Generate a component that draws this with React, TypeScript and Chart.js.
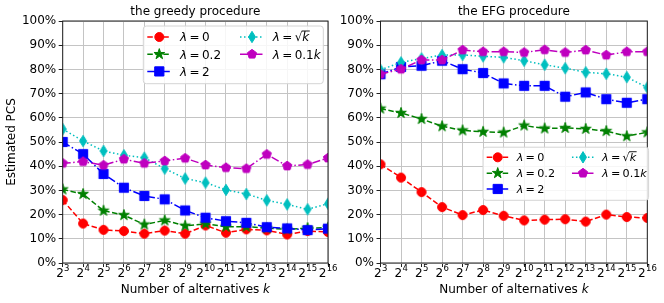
import React, { useEffect, useRef } from 'react';
import { Chart, registerables } from 'chart.js';
Chart.register(...registerables);

// ---------- data ----------
const exponents = [3, 4, 5, 6, 7, 8, 9, 10, 11, 12, 13, 14, 15, 16];
const tickBase = '2';

const seriesLabels = ['λ = 0', 'λ = 0.2', 'λ = 2', 'λ = √k', 'λ = 0.1k'];

const greedyLam0 = [26.0, 16.3, 13.7, 13.2, 12.1, 13.4, 12.1, 15.5, 12.5, 13.9, 13.5, 11.8, 13.2, 12.8];
const greedyLam02 = [30.4, 28.5, 21.6, 19.8, 15.9, 17.6, 15.4, 16.2, 15.0, 15.0, 14.4, 13.9, 14.4, 14.6];
const greedyLam2 = [50.0, 45.0, 36.8, 31.1, 27.7, 26.3, 21.7, 18.7, 17.3, 16.6, 14.8, 14.3, 13.6, 14.2];
const greedyLamSqrtK = [55.3, 50.4, 46.3, 44.5, 43.5, 39.0, 34.9, 33.2, 30.2, 28.5, 25.9, 24.2, 22.2, 24.5];
const greedyLam01K = [41.2, 41.9, 40.4, 42.9, 41.2, 42.2, 43.3, 40.5, 39.4, 39.0, 44.9, 40.1, 40.7, 43.4];

const efgLam0 = [40.8, 35.3, 29.3, 23.1, 19.8, 21.9, 19.5, 17.6, 17.9, 18.1, 17.1, 20.0, 19.0, 18.6];
const efgLam02 = [63.8, 62.0, 59.5, 56.5, 54.8, 54.2, 53.9, 56.8, 55.6, 55.8, 55.4, 54.5, 52.4, 54.0];
const efgLam2 = [78.0, 81.0, 81.5, 83.6, 80.1, 78.5, 74.2, 73.2, 73.2, 68.7, 70.5, 67.7, 66.2, 67.7];
const efgLamSqrtK = [79.8, 82.9, 84.5, 85.9, 86.0, 85.4, 85.0, 83.6, 81.9, 80.5, 78.8, 78.2, 76.8, 72.5];
const efgLam01K = [78.0, 80.1, 83.9, 83.9, 88.0, 87.3, 87.3, 87.0, 88.1, 87.0, 88.0, 85.9, 87.3, 87.3];

const titleGreedy = 'the greedy procedure';
const titleEFG = 'the EFG procedure';
const xAxisTitle = 'Number of alternatives ';
const xAxisVar = 'k';
const yAxisTitle = 'Estimated PCS';

// ---------- styles ----------
const FONT = '"DejaVu Sans"';
const seriesColors = ['#ff0000', '#008000', '#0000ff', '#00bfbf', '#bf00bf'];
const seriesMarkers = ['circle', 'star', 'square', 'thinDiamond', 'pentagon'];
const seriesDashes = [[5.5, 2.5], [5.5, 2.5], [8, 2.5, 1.5, 2.5], [1.5, 2.5], [8, 2.5, 1.5, 2.5]];

function markerPath(ctx: CanvasRenderingContext2D, type: string, cx: number, cy: number) {
  ctx.beginPath();
  if (type === 'circle') {
    ctx.arc(cx, cy, 4.5, 0, Math.PI * 2);
  } else if (type === 'square') {
    ctx.rect(cx - 4.6, cy - 4.6, 9.2, 9.2);
  } else if (type === 'star') {
    const R = 5.6, r = R * 0.382;
    for (let i = 0; i < 10; i++) {
      const ang = -Math.PI / 2 + (i * Math.PI) / 5;
      const rr = i % 2 === 0 ? R : r;
      const px = cx + rr * Math.cos(ang), py = cy + rr * Math.sin(ang);
      if (i === 0) ctx.moveTo(px, py); else ctx.lineTo(px, py);
    }
    ctx.closePath();
  } else if (type === 'pentagon') {
    const R = 4.8;
    for (let i = 0; i < 5; i++) {
      const ang = -Math.PI / 2 + (i * 2 * Math.PI) / 5;
      const px = cx + R * Math.cos(ang), py = cy + R * Math.sin(ang);
      if (i === 0) ctx.moveTo(px, py); else ctx.lineTo(px, py);
    }
    ctx.closePath();
  } else if (type === 'thinDiamond') {
    const h = 5.7, w = 3.5;
    ctx.moveTo(cx, cy - h);
    ctx.lineTo(cx + w, cy);
    ctx.lineTo(cx, cy + h);
    ctx.lineTo(cx - w, cy);
    ctx.closePath();
  }
}

function drawMarker(ctx: CanvasRenderingContext2D, type: string, color: string, cx: number, cy: number) {
  ctx.save();
  ctx.setLineDash([]);
  markerPath(ctx, type, cx, cy);
  ctx.fillStyle = color;
  ctx.strokeStyle = color;
  ctx.lineWidth = 1;
  ctx.fill();
  ctx.stroke();
  ctx.restore();
}

function makeMarkerImage(type: string, color: string) {
  const c = document.createElement('canvas');
  c.width = 16;
  c.height = 16;
  const ctx = c.getContext('2d')!;
  drawMarker(ctx, type, color, 8, 8);
  return c;
}

// draw a label such as "λ = 0.1k" with math-like styling
function drawMath(ctx: CanvasRenderingContext2D, label: string, x: number, yBase: number, size: number) {
  const chars = label.replace(/ /g, '').split('');
  let cx = x;
  let sqrtStart = -1;
  for (let i = 0; i < chars.length; i++) {
    const ch = chars[i];
    const italic = ch === 'λ' || ch === 'k';
    ctx.font = `${italic ? 'italic ' : ''}${size}px ${FONT}`;
    if (ch === '=') {
      cx += size * 0.2;
    }
    ctx.fillText(ch, cx, yBase);
    const w = ctx.measureText(ch).width;
    if (ch === '√') {
      sqrtStart = cx + w - 0.6;
    }
    cx += w;
    if (ch === '=') cx += size * 0.2;
  }
  if (sqrtStart >= 0) {
    ctx.save();
    ctx.strokeStyle = '#000';
    ctx.lineWidth = 0.9;
    ctx.beginPath();
    const oy = yBase - size * 0.86;
    ctx.moveTo(sqrtStart, oy);
    ctx.lineTo(cx + 0.5, oy);
    ctx.stroke();
    ctx.restore();
  }
}

type PanelCfg = {
  left: number;
  width: number;
  yWidth: number;
  padRight: number;
  title: string;
  showYTitle: boolean;
  legend: { x: number; y: number; s: number; font: number };
  series: number[][];
};

const panels: PanelCfg[] = [
  {
    left: 0,
    width: 346,
    yWidth: 62.7,
    padRight: 18,
    title: titleGreedy,
    showYTitle: true,
    legend: { x: 143.3, y: 26, s: 1, font: 12 },
    series: [greedyLam0, greedyLam02, greedyLam2, greedyLamSqrtK, greedyLam01K],
  },
  {
    left: 332,
    width: 332,
    yWidth: 48.5,
    padRight: 16.7,
    title: titleEFG,
    showYTitle: false,
    legend: { x: 151, y: 147.2, s: 0.92, font: 11.2 },
    series: [efgLam0, efgLam02, efgLam2, efgLamSqrtK, efgLam01K],
  },
];

function makeDecor(cfg: PanelCfg) {
  return {
    id: 'decor',
    afterDraw(chart: any) {
      const ctx: CanvasRenderingContext2D = chart.ctx;
      const a = chart.chartArea;
      const xs = chart.scales.x;
      ctx.save();
      // frame
      ctx.strokeStyle = '#222';
      ctx.lineWidth = 1;
      ctx.setLineDash([]);
      ctx.strokeRect(a.left, a.top, a.right - a.left, a.bottom - a.top);

      // legend
      const L = cfg.legend;
      const s = L.s;
      ctx.beginPath();
      if ((ctx as any).roundRect) (ctx as any).roundRect(L.x, L.y, 180 * s, 57.7 * s, 3);
      else ctx.rect(L.x, L.y, 180 * s, 57.7 * s);
      ctx.fillStyle = 'rgba(255,255,255,0.85)';
      ctx.fill();
      ctx.strokeStyle = '#d4d4d4';
      ctx.lineWidth = 1;
      ctx.stroke();
      const rows = [11, 28.2, 45.4];
      const order = [[0, 0], [0, 1], [0, 2], [1, 0], [1, 1]];
      for (let i = 0; i < 5; i++) {
        const [col, row] = order[i];
        const ox = L.x + col * 92.7 * s;
        const oy = L.y + rows[row] * s;
        ctx.save();
        ctx.strokeStyle = seriesColors[i];
        ctx.lineWidth = 1.5;
        ctx.setLineDash(seriesDashes[i]);
        ctx.beginPath();
        ctx.moveTo(ox + 4 * s, oy);
        ctx.lineTo(ox + 27.4 * s, oy);
        ctx.stroke();
        ctx.restore();
        drawMarker(ctx, seriesMarkers[i], seriesColors[i], ox + 16 * s, oy);
        ctx.fillStyle = '#000';
        ctx.textAlign = 'left';
        ctx.textBaseline = 'alphabetic';
        drawMath(ctx, seriesLabels[i], ox + 36.7 * s, oy + L.font * 0.36, L.font);
      }

      // title
      const cxMid = (a.left + a.right) / 2;
      ctx.fillStyle = '#000';
      ctx.font = `12px ${FONT}`;
      ctx.textAlign = 'center';
      ctx.textBaseline = 'middle';
      ctx.fillText(cfg.title, cxMid, 11.5);

      // x tick labels 2^e
      ctx.textBaseline = 'alphabetic';
      ctx.textAlign = 'left';
      for (const e of exponents) {
        const px = xs.getPixelForValue(e);
        ctx.font = `12px ${FONT}`;
        const wb = ctx.measureText(tickBase).width;
        ctx.font = `8.5px ${FONT}`;
        const we = ctx.measureText(String(e)).width;
        const x0 = px - (wb + we) / 2;
        ctx.font = `12px ${FONT}`;
        ctx.fillText(tickBase, x0, a.bottom + 13.5);
        ctx.font = `8.5px ${FONT}`;
        ctx.fillText(String(e), x0 + wb + 0.3, a.bottom + 8.2);
      }

      // x title
      ctx.font = `12px ${FONT}`;
      const w1 = ctx.measureText(xAxisTitle).width;
      ctx.font = `italic 12px ${FONT}`;
      const w2 = ctx.measureText(xAxisVar).width;
      const tx = cxMid - (w1 + w2) / 2;
      ctx.textBaseline = 'middle';
      ctx.font = `12px ${FONT}`;
      ctx.fillText(xAxisTitle, tx, 289.5);
      ctx.font = `italic 12px ${FONT}`;
      ctx.fillText(xAxisVar, tx + w1, 289.5);

      // y title
      if (cfg.showYTitle) {
        ctx.save();
        ctx.translate(11.5, (a.top + a.bottom) / 2);
        ctx.rotate(-Math.PI / 2);
        ctx.font = `12px ${FONT}`;
        ctx.textAlign = 'center';
        ctx.textBaseline = 'middle';
        ctx.fillText(yAxisTitle, 0, 0);
        ctx.restore();
      }
      ctx.restore();
    },
  };
}

function Panel({ cfg }: { cfg: PanelCfg }) {
  const ref = useRef<HTMLCanvasElement | null>(null);
  useEffect(() => {
    const datasets = cfg.series.map((vals, i) => ({
      label: seriesLabels[i],
      data: exponents.map((e, j) => ({ x: e, y: vals[j] })),
      borderColor: seriesColors[i],
      backgroundColor: seriesColors[i],
      borderWidth: 1.5,
      borderDash: seriesDashes[i],
      pointStyle: makeMarkerImage(seriesMarkers[i], seriesColors[i]),
      pointRadius: 5,
      pointHoverRadius: 5,
      tension: 0,
      clip: 0,
      order: 5 - i,
    }));
    const gridOpts = { color: '#c4c4c4', lineWidth: 1, tickLength: 4, tickColor: '#222', drawTicks: true };
    const chart = new Chart(ref.current!, {
      type: 'line',
      data: { datasets } as any,
      options: {
        responsive: false,
        animation: false,
        devicePixelRatio: 1,
        events: [],
        layout: { padding: { top: 21, right: cfg.padRight, bottom: 0, left: 0 } },
        plugins: {
          legend: { display: false },
          title: { display: false },
          tooltip: { enabled: false },
        },
        scales: {
          x: {
            type: 'linear',
            min: 3,
            max: 16,
            afterFit: (s: any) => {
              s.height = 40;
            },
            ticks: { stepSize: 1, display: false },
            grid: gridOpts,
            border: { display: false },
          },
          y: {
            type: 'linear',
            min: 0,
            max: 100,
            afterFit: (s: any) => {
              s.width = cfg.yWidth;
            },
            ticks: {
              stepSize: 10,
              callback: (v: any) => v + '%',
              font: { family: 'DejaVu Sans', size: 12 },
              color: '#000',
              padding: 2.5,
            },
            grid: gridOpts,
            border: { display: false },
          },
        },
      } as any,
      plugins: [makeDecor(cfg)],
    });
    return () => chart.destroy();
  }, []);
  return (
    <canvas
      ref={ref}
      width={cfg.width}
      height={303}
      style={{ position: 'absolute', left: cfg.left, top: 0, width: cfg.width, height: 303, display: 'block' }}
    />
  );
}

export default function App() {
  return (
    <div style={{ position: 'fixed', left: 0, top: 0, width: 664, height: 303, background: '#fff', overflow: 'hidden' }}>
      {panels.map((p, i) => (
        <Panel key={i} cfg={p} />
      ))}
    </div>
  );
}
